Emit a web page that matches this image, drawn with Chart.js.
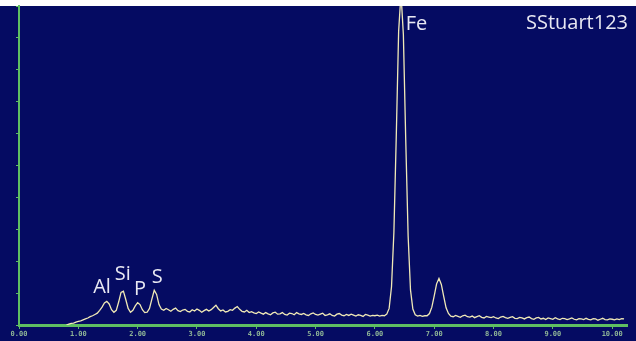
<!DOCTYPE html>
<html>
<head>
<meta charset="utf-8">
<script src="https://cdn.jsdelivr.net/npm/chart.js@4/dist/chart.umd.min.js"></script>
<style>
  html, body { margin: 0; padding: 0; background: #ffffff; }
  #wrap { width: 636px; height: 341px; position: relative; }
</style>
</head>
<body>
<div id="wrap"><canvas id="c" width="636" height="341"></canvas></div>
<script>
// Energy calibration of the channels (keV)
const E_START = 0.80;
const E_STEP = 0.04;

// Counts per channel (relative units)
const counts = [
  0, 0.3, 0.5, 0.6, 0.9, 1.1, 1.3, 1.6, 1.9, 2.2,
  2.6, 2.9, 3.3, 3.7, 4.6, 5.6, 6.9, 7.4, 6.6, 4.8,
  4.0, 4.6, 7.2, 10.2, 10.6, 8.0, 5.2, 4.0, 4.6, 6.0,
  7.0, 6.4, 4.8, 3.9, 4.0, 5.2, 8.1, 10.9, 9.6, 6.4,
  5.0, 4.6, 5.2, 4.8, 4.3, 4.9, 5.3, 4.5, 4.2, 4.7,
  4.9, 4.3, 4.1, 4.8, 4.4, 5.0, 4.6, 4.0, 4.5, 4.9,
  4.4, 4.8, 5.5, 6.2, 5.1, 4.4, 4.7, 4.1, 4.3, 4.8,
  4.6, 5.3, 5.8, 4.9, 4.3, 4.1, 4.6, 3.9, 4.2, 3.8,
  3.6, 4.1, 3.7, 3.4, 3.9, 3.5, 3.2, 3.8, 4.0, 3.4,
  3.5, 3.9, 3.3, 3.1, 3.7, 3.6, 3.2, 3.9, 3.5, 3.3,
  3.6, 3.2, 3.0, 3.5, 3.8, 3.3, 3.1, 3.4, 3.7, 3.0,
  3.2, 3.5, 3.0, 2.8, 3.4, 3.6, 3.1, 2.9, 3.3, 3.0,
  3.4, 3.1, 2.8, 3.2, 3.0, 2.7, 3.3, 3.1, 2.8, 3.0,
  2.9, 3.1, 2.8, 3.0, 2.9, 3.4, 5.2, 12, 29, 59,
  92, 104, 91, 58, 28, 11, 5.0, 3.2, 2.8, 3.0,
  2.7, 2.9, 2.9, 3.6, 5.6, 9.1, 12.9, 14.6, 12.7, 9.0,
  5.4, 3.6, 2.8, 2.6, 3.0, 2.7, 2.4, 2.9, 3.1, 2.6,
  2.5, 2.8, 2.3, 2.6, 2.9, 2.4, 2.2, 2.7, 2.5, 2.3,
  2.6, 2.2, 2.0, 2.5, 2.7, 2.3, 2.1, 2.4, 2.6, 2.1,
  2.0, 2.4, 2.2, 1.9, 2.3, 2.5, 2.0, 1.8, 2.2, 2.4,
  1.9, 2.1, 1.7, 2.2, 2.0, 1.8, 2.3, 1.9, 1.7, 2.1,
  2.0, 1.7, 1.9, 2.2, 1.8, 1.6, 2.0, 1.9, 1.7, 2.1,
  1.8, 1.6, 2.0, 1.9, 1.5, 1.8, 2.1, 1.7, 1.6, 1.9,
  1.8, 1.6, 1.9, 1.7, 2.0, 1.9
];

// Axis settings
const X_MIN = 0, X_MAX = 10.25, X_STEP = 1;
const Y_MIN = 0, Y_MAX = 100, Y_STEP = 10;

// Element labels and their peak energies (keV)
const elementNames = ['Al', 'Si', 'P', 'S', 'Fe'];
const elementEnergies = [1.48, 1.75, 2.01, 2.29, 6.44];
const watermark = 'SStuart123';

const points = counts.map((v, i) => ({ x: E_START + i * E_STEP, y: v }));

const NAVY = '#050b62';
const GREEN = '#5fbf62';

const bgPlugin = {
  id: 'bg',
  beforeDraw(chart) {
    const ctx = chart.ctx;
    ctx.save();
    ctx.fillStyle = '#ffffff';
    ctx.fillRect(0, 0, chart.width, chart.height);
    ctx.fillStyle = NAVY;
    ctx.fillRect(0, 6, chart.width, chart.height - 6);
    ctx.restore();
  }
};

const labelPlacement = {
  Al: { e: 1.40, v: 10.0, align: 'center' },
  Si: { e: 1.75, v: 14.2, align: 'center' },
  P:  { e: 2.04, v: 9.4,  align: 'center' },
  S:  { e: 2.33, v: 13.2, align: 'center' },
  Fe: { e: 6.52, v: 92.5, align: 'left' }
};

const labelPlugin = {
  id: 'labels',
  afterDatasetsDraw(chart) {
    const ctx = chart.ctx;
    const xs = chart.scales.x, ys = chart.scales.y;
    ctx.save();
    ctx.fillStyle = '#e8e8f2';
    ctx.font = '20px "Open Sans", sans-serif';
    ctx.textBaseline = 'alphabetic';
    elementNames.forEach((name) => {
      const p = labelPlacement[name];
      ctx.textAlign = p.align;
      ctx.fillText(name, xs.getPixelForValue(p.e), ys.getPixelForValue(p.v));
    });
    ctx.textAlign = 'right';
    ctx.fillText(watermark, chart.chartArea.right + 1, 29);
    ctx.restore();
  }
};

new Chart(document.getElementById('c'), {
  type: 'line',
  data: {
    datasets: [{
      data: points,
      borderColor: '#f0e9b6',
      borderWidth: 1.3,
      pointRadius: 0,
      tension: 0,
      fill: false
    }]
  },
  options: {
    responsive: false,
    animation: false,
    events: [],
    plugins: { legend: { display: false }, tooltip: { enabled: false } },
    layout: { padding: { left: 0, top: 6, right: 9, bottom: 0 } },
    scales: {
      x: {
        type: 'linear',
        min: X_MIN,
        max: X_MAX,
        afterFit(s) { s.height = 16; },
        afterBuildTicks(s) {
          const t = [];
          for (let v = X_MIN; v <= 10; v += X_STEP) t.push({ value: v });
          s.ticks = t;
        },
        ticks: {
          color: '#8fb596',
          font: { family: '"DejaVu Sans Mono", monospace', size: 7, weight: 'bold' },
          padding: 1,
          maxRotation: 0,
          autoSkip: false,
          callback: (v) => Number(v).toFixed(2)
        },
        grid: {
          drawOnChartArea: false,
          drawTicks: true,
          tickLength: 4,
          color: GREEN,
          lineWidth: 1
        },
        border: { display: true, color: GREEN, width: 3 }
      },
      y: {
        type: 'linear',
        min: Y_MIN,
        max: Y_MAX,
        afterFit(s) { s.width = 19; },
        ticks: { display: false, stepSize: Y_STEP },
        grid: {
          drawOnChartArea: false,
          drawTicks: true,
          tickLength: 3,
          color: GREEN,
          lineWidth: 1
        },
        border: { display: true, color: GREEN, width: 2 }
      }
    }
  },
  plugins: [bgPlugin, labelPlugin]
});
</script>
</body>
</html>
